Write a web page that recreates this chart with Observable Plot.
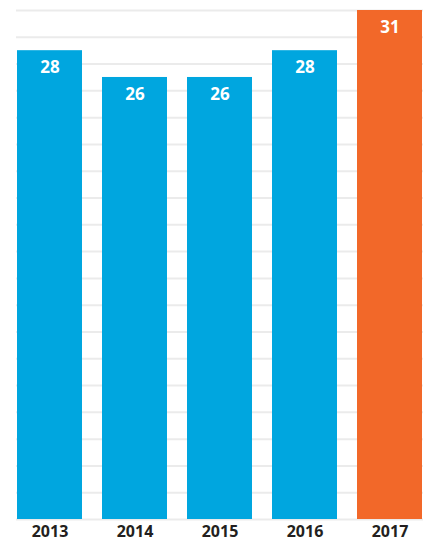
<!DOCTYPE html>
<html>
<head>
<meta charset="utf-8">
<script src="https://cdn.jsdelivr.net/npm/d3@7"></script>
<script src="https://cdn.jsdelivr.net/npm/@observablehq/plot@0.6"></script>
<style>
  html, body { margin: 0; padding: 0; background: #fff; }
  #chart svg { display: block; }
</style>
</head>
<body>
<div id="chart"></div>
<script>
const years = ["2013", "2014", "2015", "2016", "2017"];
const values = [28, 26, 26, 28, 31];
const highlight = [false, false, false, false, true];
const axisStart = -7;
const gridTicks = d3.range(-7, 32, 2);

const data = years.map((y, i) => ({year: y, value: values[i], hl: highlight[i]}));

const chart = Plot.plot({
  width: 428,
  height: 542,
  marginTop: 10,
  marginBottom: 23,
  marginLeft: 16,
  marginRight: 5,
  style: {fontFamily: "'Open Sans', sans-serif", fontWeight: 700, background: "#fff"},
  x: {domain: years, paddingInner: 0.23, paddingOuter: 0},
  y: {domain: [axisStart, 31], axis: null},
  marks: [
    Plot.ruleY(gridTicks, {stroke: "#ebebeb", strokeWidth: 2}),
    Plot.rectY(data, {
      x: "year",
      y1: axisStart,
      y2: "value",
      fill: d => d.hl ? "#f26829" : "#00a6df"
    }),
    Plot.text(data, {
      x: "year",
      y: "value",
      text: d => String(d.value),
      dy: 17,
      fill: "#fff",
      fontSize: 17,
      fontWeight: 700
    }),
    Plot.axisX({
      tickSize: 0,
      tickPadding: 6,
      fontSize: 16,
      fontWeight: 700,
      fill: "#231f20",
      label: null
    })
  ]
});
document.getElementById("chart").append(chart);
</script>
</body>
</html>
